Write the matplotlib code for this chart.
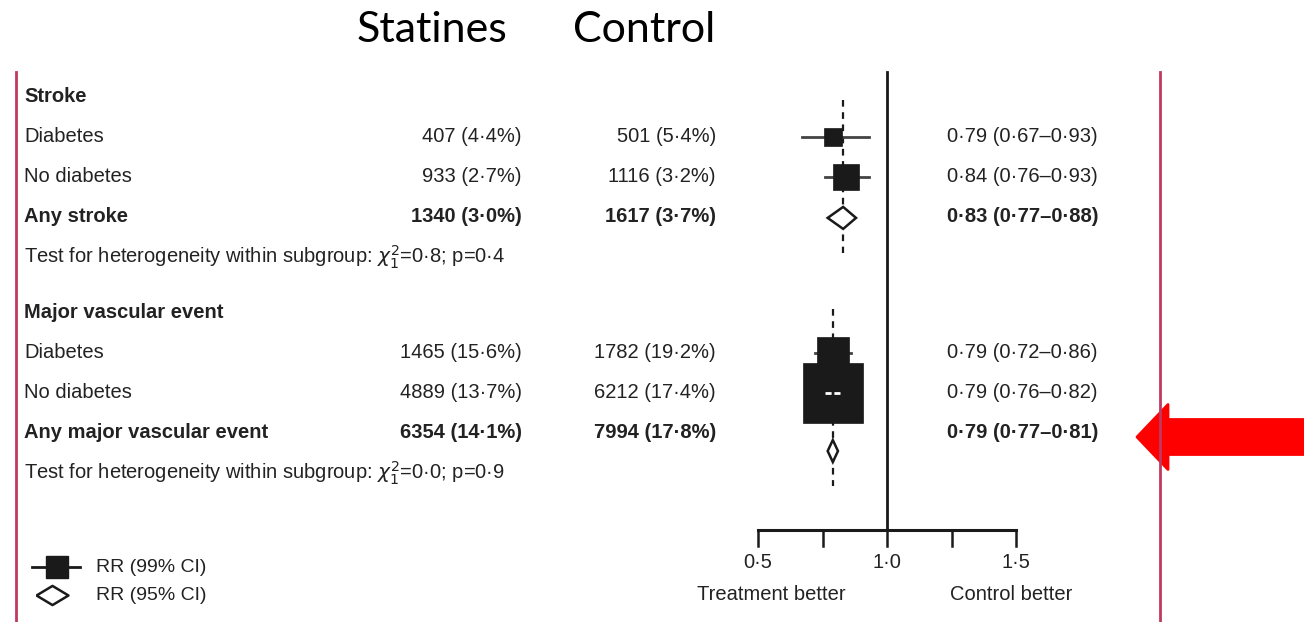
import numpy as np
import matplotlib.pyplot as plt
from matplotlib.patches import FancyArrow

# dados (Lancet, estatinas vs controle)
groups = ['Stroke', 'Major vascular event']
subgroups = ['Diabetes', 'No diabetes']
totals = ['Any stroke', 'Any major vascular event']
statin_n = [[407, 933, 1340], [1465, 4889, 6354]]
statin_pct = [[4.4, 2.7, 3.0], [15.6, 13.7, 14.1]]
control_n = [[501, 1116, 1617], [1782, 6212, 7994]]
control_pct = [[5.4, 3.2, 3.7], [19.2, 17.4, 17.8]]
rr = [[0.79, 0.84, 0.83], [0.79, 0.79, 0.79]]
rr_lo = [[0.67, 0.76, 0.77], [0.72, 0.76, 0.77]]
rr_hi = [[0.93, 0.93, 0.88], [0.86, 0.82, 0.81]]
het_chi = ['0·8', '0·0']
het_p = ['0·4', '0·9']
ticks = [0.5, 0.75, 1.0, 1.25, 1.5]
tick_labels = ['0·5', '', '1·0', '', '1·5']

W, H = 1304, 622
X0, K = 758, 258          # pixel de RR=0.5 e pixels por unidade
group_top = [97, 313]
row_step = 40
txt = '#222222'
border = '#c0395f'
font = ['Liberation Sans', 'DejaVu Sans']
fs = 14.5


def dot(v, n=1):
    return f'{v:.{n}f}'.replace('.', '·')


fig = plt.figure(figsize=(W / 100, H / 100), dpi=100)
ax = fig.add_axes([0, 0, 1, 1])
ax.set_xlim(0, W)
ax.set_ylim(H, 0)
ax.axis('off')

fx = fig.add_axes([0, 0, 1, 1], sharey=ax)
fx.set_xlim(0.5 - X0 / K, 0.5 + (W - X0) / K)
fx.axis('off')
fx.patch.set_visible(False)

# titulos
ax.text(357, 30, 'Statines', fontsize=31, family=['Lato', 'DejaVu Sans'], va='center', ha='left')
ax.text(573, 30, 'Control', fontsize=31, family=['Lato', 'DejaVu Sans'], va='center', ha='left')

# bordas
ax.plot([16, 16], [72, H], color=border, lw=2)
ax.plot([1160, 1160], [72, H], color=border, lw=2)

for g in range(2):
    y0 = group_top[g]
    ax.text(24, y0, groups[g], fontsize=fs, family=font, weight='bold', color=txt, va='center')
    names = subgroups + [totals[g]]
    ys = [y0 + row_step * (i + 1) for i in range(3)]
    for i in range(3):
        y = ys[i]
        wt = 'bold' if i == 2 else 'normal'
        ax.text(24, y, names[i], fontsize=fs, family=font, weight=wt, color=txt, va='center')
        ax.text(522, y, f'{statin_n[g][i]} ({dot(statin_pct[g][i])}%)', fontsize=fs, family=font,
                weight=wt, color=txt, va='center', ha='right')
        ax.text(716, y, f'{control_n[g][i]} ({dot(control_pct[g][i])}%)', fontsize=fs, family=font,
                weight=wt, color=txt, va='center', ha='right')
        ax.text(947, y, f'{dot(rr[g][i], 2)} ({dot(rr_lo[g][i], 2)}–{dot(rr_hi[g][i], 2)})',
                fontsize=fs, family=font, weight=wt, color=txt, va='center', ha='left')
    ax.text(24, y0 + row_step * 4, 'Test for heterogeneity within subgroup: $\\chi^2_1$=' + het_chi[g] +
            '; p=' + het_p[g], fontsize=fs, family=font, color=txt, va='center')

    # quadrados (lado ~ sqrt do total de eventos)
    bottoms = []
    for i in range(2):
        side = 0.57 * np.sqrt(statin_n[g][i] + control_n[g][i])
        fx.plot([rr_lo[g][i], rr_hi[g][i]], [ys[i], ys[i]], color='#444444', lw=2, zorder=2)
        fx.plot(rr[g][i], ys[i], marker='s', ms=side * 0.72, color='#1a1a1a', mec='#1a1a1a',
                mew=0.5, zorder=3)
        half = side / 2 / K
        if rr_lo[g][i] > rr[g][i] - half and rr_hi[g][i] < rr[g][i] + half:
            fx.plot([rr_lo[g][i], rr_hi[g][i]], [ys[i], ys[i]], color='white', lw=2,
                    ls=(0, (2.2, 1.0)), zorder=4)
        bottoms.append(ys[i] + side / 2)
    # losango
    yd = max(ys[2], bottoms[-1] + 28)
    fx.fill([rr_lo[g][2], rr[g][2], rr_hi[g][2], rr[g][2]], [yd, yd - 11, yd, yd + 11],
            facecolor='white', edgecolor='#1a1a1a', lw=1.8, zorder=3)
    top0 = ys[0] - 0.57 * np.sqrt(statin_n[g][0] + control_n[g][0]) / 2
    fx.plot([rr[g][2], rr[g][2]], [top0 - 28, yd + 11 + 24], color='#1a1a1a', lw=1.6,
            ls=(0, (3, 2.5)), zorder=1)

# eixo
fx.plot([1.0, 1.0], [72, 530], color='#1a1a1a', lw=2)
fx.plot([ticks[0], ticks[-1]], [530, 530], color='#1a1a1a', lw=2.2)
for t, lab in zip(ticks, tick_labels):
    fx.plot([t, t], [530, 546], color='#1a1a1a', lw=1.8)
    if lab:
        fx.text(t, 562, lab, fontsize=fs, family=font, color=txt, ha='center', va='center')
fx.text(0.55, 595, 'Treatment better', fontsize=fs, family=font, color=txt, ha='center', va='center')
fx.text(1.48, 595, 'Control better', fontsize=fs, family=font, color=txt, ha='center', va='center')

# legenda
diamond = [(-1, 0), (0, 0.6), (1, 0), (0, -0.6), (-1, 0)]
ax.plot([32, 80], [567, 567], color='#1a1a1a', lw=2)
ax.plot(57, 567, marker='s', ms=16, color='#1a1a1a')
ax.plot(52, 595, marker=diamond, ms=23, mfc='white', mec='#1a1a1a', mew=1.8)
ax.text(96, 567, 'RR (99% CI)', fontsize=14, family=['Liberation Sans Narrow'] + font, color=txt, va='center')
ax.text(96, 595, 'RR (95% CI)', fontsize=14, family=['Liberation Sans Narrow'] + font, color=txt, va='center')

# seta vermelha
ax.add_patch(FancyArrow(1304, 437, -167, 0, width=35, head_width=65, head_length=31,
                        length_includes_head=True, color='#ff0000', lw=2, joinstyle='round'))

fig.savefig('out.png', dpi=100)
